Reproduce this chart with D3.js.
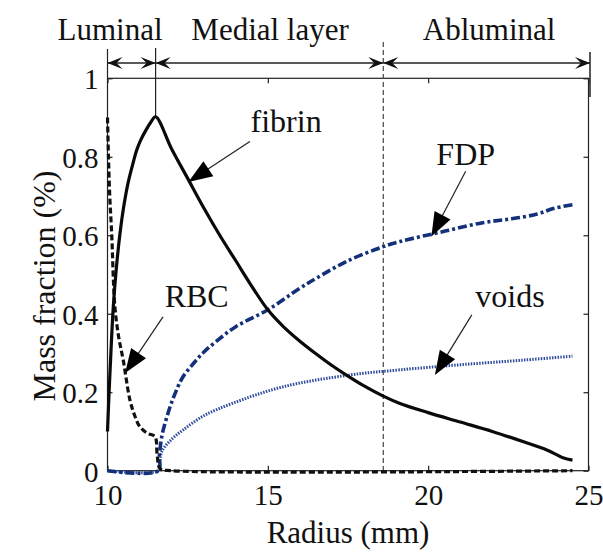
<!DOCTYPE html>
<html><head><meta charset="utf-8">
<script src="https://cdn.jsdelivr.net/npm/d3@7"></script>
<style>
html,body{margin:0;padding:0;background:#fff;}
text{font-family:"Liberation Serif","Times New Roman",serif;fill:#111;}
</style></head>
<body><svg id="c" width="603" height="552"></svg>
<script>
// ---- data ----
const xTicks = [10, 15, 20, 25];
const yTicks = [0, 0.2, 0.4, 0.6, 0.8, 1];
const yTickLabels = ["0", "0.2", "0.4", "0.6", "0.8", "1"];

const fibrinX = [10, 10.05, 10.1, 10.18, 10.28, 10.39, 10.5, 10.64, 10.8, 10.91, 11.05, 11.2, 11.35, 11.5, 12.0, 12.5, 13.0, 13.5, 14.0, 14.5, 15.0, 15.5, 16.0, 16.5, 17.0, 17.5, 18.0, 18.6, 19.1, 20.0, 21.0, 22.0, 23.0, 23.7, 24.2, 24.5];
const fibrinY = [0.1, 0.2, 0.29, 0.417, 0.52, 0.605, 0.67, 0.733, 0.785, 0.817, 0.845, 0.868, 0.888, 0.902, 0.82, 0.745, 0.67, 0.6, 0.535, 0.47, 0.41, 0.366, 0.33, 0.298, 0.268, 0.241, 0.216, 0.19, 0.172, 0.148, 0.124, 0.1, 0.073, 0.053, 0.033, 0.027];

const rbcX = [10, 10.03, 10.07, 10.13, 10.23, 10.35, 10.49, 10.7, 10.85, 11.01, 11.25, 11.48, 11.55, 11.64, 12, 24.5];
const rbcY = [0.9, 0.8, 0.7, 0.605, 0.418, 0.34, 0.282, 0.18, 0.14, 0.112, 0.095, 0.087, 0.04, 0.005, 0, 0];

const fdpX = [10, 11.58, 11.62, 11.7, 11.9, 12.1, 12.36, 12.7, 13.0, 13.4, 14.0, 15.0, 16.0, 16.5, 17.5, 18.6, 19.12, 20.5, 21.7, 22.6, 23.4, 23.9, 24.5];
const fdpY = [0, 0, 0.04, 0.09, 0.15, 0.195, 0.24, 0.275, 0.302, 0.33, 0.367, 0.41, 0.465, 0.49, 0.535, 0.571, 0.584, 0.61, 0.632, 0.642, 0.654, 0.668, 0.678];

const voidsX = [10, 11.58, 11.62, 11.7, 12.0, 12.36, 13.0, 13.91, 15.48, 17.56, 19.12, 21.0, 23.0, 24.5];
const voidsY = [0, 0, 0.02, 0.05, 0.08, 0.104, 0.14, 0.172, 0.214, 0.244, 0.257, 0.27, 0.282, 0.292];

const regionNames = ["Luminal", "Medial layer", "Abluminal"];
const regionBounds = [10, 11.5, 18.6, 25];
const regionLabelX = [10.08, 15.07, 21.9];

const labelNames = ["fibrin", "RBC", "FDP", "voids"];
const labelPos = [[15.57, 0.863], [12.78, 0.418], [21.17, 0.78], [22.55, 0.418]];
const arrowFrom = [[14.44, 0.839], [11.73, 0.392], [21.17, 0.763], [21.36, 0.397]];
const arrowTo = [[12.52, 0.736], [10.55, 0.249], [20.1, 0.597], [20.21, 0.244]];

// ---- drawing ----
const svg = d3.select("#c");
const x = d3.scaleLinear().domain([10, 25]).range([107.5, 588.5]);
const y = d3.scaleLinear().domain([0, 1]).range([470.7, 78.3]);

const g = svg.append("g");
g.append("rect").attr("x", x(10)).attr("y", y(1)).attr("width", x(25) - x(10)).attr("height", y(0) - y(1))
  .attr("fill", "none").attr("stroke", "#222").attr("stroke-width", 1.2);

const axB = d3.axisBottom(x).tickValues(xTicks).tickSize(-5).tickPadding(14).tickFormat(d3.format("d"));
const gb = g.append("g").attr("transform", `translate(0,${y(0)})`).call(axB);
const axT = d3.axisTop(x).tickValues(xTicks).tickSize(-5).tickFormat("");
const gt = g.append("g").attr("transform", `translate(0,${y(1)})`).call(axT);
const axL = d3.axisLeft(y).tickValues(yTicks).tickSize(-5).tickPadding(9).tickFormat((d, i) => yTickLabels[i]);
const gl = g.append("g").attr("transform", `translate(${x(10)},0)`).call(axL);
const axR = d3.axisRight(y).tickValues(yTicks).tickSize(-5).tickFormat("");
const gr = g.append("g").attr("transform", `translate(${x(25)},0)`).call(axR);
[gb, gt, gl, gr].forEach(a => {
  a.select(".domain").remove();
  a.selectAll(".tick line").attr("stroke", "#222").attr("stroke-width", 1.2);
  a.selectAll(".tick text").style("font-family", '"Liberation Serif",serif').style("font-size", "29px").attr("fill", "#111");
});
gb.selectAll(".tick text").attr("dy", "0.71em");
gl.selectAll(".tick text").attr("dy", "0.36em");

svg.append("text").attr("x", (x(10) + x(25)) / 2).attr("y", 543).attr("text-anchor", "middle")
  .style("font-size", "31px").text("Radius (mm)");
svg.append("text").attr("transform", `translate(55,286) rotate(-90)`).attr("text-anchor", "middle")
  .style("font-size", "32px").text("Mass fraction (%)");

const topY = 63;
svg.append("line").attr("x1", x(10)).attr("x2", x(10)).attr("y1", 49).attr("y2", y(1)).attr("stroke", "#222").attr("stroke-width", 1.2);
svg.append("line").attr("x1", x(regionBounds[1])).attr("x2", x(regionBounds[1])).attr("y1", 48).attr("y2", y(0.902)).attr("stroke", "#222").attr("stroke-width", 1.2);
svg.append("line").attr("x1", x(regionBounds[2])).attr("x2", x(regionBounds[2])).attr("y1", 42).attr("y2", y(0))
  .attr("stroke", "#444").attr("stroke-width", 1.2).attr("stroke-dasharray", "5,3");
svg.append("line").attr("x1", x(25) + 1.5).attr("x2", x(25) + 1.5).attr("y1", 52).attr("y2", 97).attr("stroke", "#222").attr("stroke-width", 1.5);

function head(px, py, dir, len, hw) {
  const c = Math.cos(dir), s = Math.sin(dir);
  const bx = px - c * len, by = py - s * len;
  const nx = -s * hw, ny = c * hw;
  const mx = px - c * len * 0.6, my = py - s * len * 0.6;
  return `M${px},${py}L${bx + nx},${by + ny}L${mx},${my}L${bx - nx},${by - ny}Z`;
}

for (let i = 0; i < 3; i++) {
  const a = x(regionBounds[i]), b = i === 2 ? x(25) + 1.5 : x(regionBounds[i + 1]);
  svg.append("line").attr("x1", a).attr("x2", b).attr("y1", topY).attr("y2", topY).attr("stroke", "#222").attr("stroke-width", 1.3);
  svg.append("path").attr("d", head(a, topY, Math.PI, 15, 6)).attr("fill", "#111");
  svg.append("path").attr("d", head(b, topY, 0, 15, 6)).attr("fill", "#111");
  svg.append("text").attr("x", x(regionLabelX[i])).attr("y", 40).attr("text-anchor", "middle")
    .style("font-size", "31px").text(regionNames[i]);
}

const zip = (xs, ys) => xs.map((v, i) => [v, ys[i]]);
const lineRaw = d3.line().x(d => x(d[0])).y(d => y(d[1])).curve(d3.curveCatmullRom.alpha(0.5));

svg.append("path").attr("d", lineRaw(zip(voidsX, voidsY))).attr("fill", "none").attr("stroke", "#2f4c9c")
  .attr("stroke-width", 3).attr("stroke-dasharray", "1.5,1.3");
svg.append("path").attr("d", lineRaw(zip(fdpX, fdpY))).attr("fill", "none").attr("stroke", "#13307a")
  .attr("stroke-width", 3.6).attr("stroke-dasharray", "9,3,3,3");
svg.append("path").attr("d", lineRaw(zip(rbcX, rbcY))).attr("fill", "none").attr("stroke", "#111")
  .attr("stroke-width", 3.2).attr("stroke-dasharray", "6,3");
svg.append("path").attr("d", lineRaw(zip(fibrinX, fibrinY))).attr("fill", "none").attr("stroke", "#0a0a0a")
  .attr("stroke-width", 3.2);

for (let i = 0; i < labelNames.length; i++) {
  svg.append("text").attr("x", x(labelPos[i][0])).attr("y", y(labelPos[i][1])).attr("text-anchor", "middle")
    .style("font-size", "32px").text(labelNames[i]);
  const x1 = x(arrowFrom[i][0]), y1 = y(arrowFrom[i][1]), x2 = x(arrowTo[i][0]), y2 = y(arrowTo[i][1]);
  const ang = Math.atan2(y2 - y1, x2 - x1);
  svg.append("line").attr("x1", x1).attr("y1", y1).attr("x2", x2 - Math.cos(ang) * 15).attr("y2", y2 - Math.sin(ang) * 15)
    .attr("stroke", "#222").attr("stroke-width", 1.2);
  const c = Math.cos(ang), s = Math.sin(ang);
  const bx = x2 - c * 24, by = y2 - s * 24;
  svg.append("path").attr("d", `M${x2},${y2}L${bx - s * 9},${by + c * 9}L${bx + s * 9},${by - c * 9}Z`).attr("fill", "#000");
}
</script></body></html>
